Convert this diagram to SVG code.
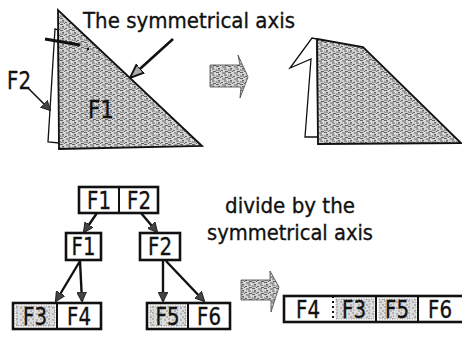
<svg xmlns="http://www.w3.org/2000/svg" width="462" height="340" viewBox="0 0 462 340">
<style>
text{font-family:"DejaVu Sans","Liberation Sans",sans-serif;fill:#111;stroke:#111;stroke-width:0.35}
.lbl{font-size:24px;text-anchor:middle}
.cap{font-size:21px}
.box{fill:#fff;stroke:#111;stroke-width:2.6}
.div{stroke:#111;stroke-width:2}
.edge{stroke:#111;stroke-width:2.4;fill:none}
.shade{fill:url(#tex);stroke:#111;stroke-width:1.8;stroke-linejoin:miter}
.light{fill:url(#tex2);stroke:#777;stroke-width:0.8;stroke-dasharray:1 1.5}
.thin{fill:#fff;stroke:#111;stroke-width:1.3}
</style>
<defs>
<pattern id="tex" width="12" height="6" patternUnits="userSpaceOnUse">
<rect width="12" height="6" fill="#cfcfcf"/>
<path d="M0,0.5h3M6,1h4M2,2.5h2M8,3h3M0,4h4M5,4.5h2M9,5.5h3M4,5.5h1" stroke="#333" stroke-width="0.7"/>
<path d="M4,0.5h1M10,2h2M1,3h1M7,5h1" stroke="#fafafa" stroke-width="0.7"/>
</pattern>
<pattern id="tex2" width="8" height="6" patternUnits="userSpaceOnUse">
<rect width="8" height="6" fill="#dcdcdc"/>
<path d="M0,1h2M4,2h2M1,4h1M6,5h2" stroke="#666" stroke-width="0.7"/>
</pattern>
<marker id="ah" viewBox="0 0 10 10" refX="9" refY="5" markerWidth="10" markerHeight="10" markerUnits="userSpaceOnUse" orient="auto">
<path d="M0,0L10,5L0,10z" fill="#444" stroke="#111" stroke-width="0.8"/>
</marker>
<marker id="ahOpen" viewBox="0 0 10 10" refX="9" refY="5" markerWidth="14" markerHeight="14" markerUnits="userSpaceOnUse" orient="auto">
<path d="M0,1L10,5L0,9z" fill="#aaa" stroke="#111" stroke-width="1.4"/>
</marker>
</defs>

<g id="label-axis">
<text class="cap" x="83" y="28" textLength="212" lengthAdjust="spacingAndGlyphs">The symmetrical axis</text>
</g>

<g id="node-F2-piece">
<polygon class="thin" points="55,29 48,142 59,143 58,30"/>
<text class="lbl" x="19" y="89" textLength="24" lengthAdjust="spacingAndGlyphs">F2</text>
</g>

<g id="node-F1-piece">
<polygon class="shade" points="58,10 59,149 202,146"/>
<text class="lbl" x="101" y="118" textLength="26" lengthAdjust="spacingAndGlyphs">F1</text>
</g>

<g id="axis-mark">
<line x1="45" y1="39" x2="80" y2="45" stroke="#111" stroke-width="3"/>
<circle cx="88" cy="49" r="1.2" fill="#111"/>
</g>

<g id="block-arrow-1">
<path d="M210,65L240,65L238,55L248,77L240,98L241,87L210,87Z" fill="url(#tex)" stroke="#444" stroke-width="0.8"/>
</g>

<g id="folded-shape">
<polygon class="thin" points="317,39 312,38 290,68 311,59 305,137 318,137"/>
<polygon class="shade" points="317,39 363,47 461,143 318,144"/>
</g>

<g id="tree-root">
<rect class="box" x="79" y="187" width="79" height="26"/>
<line class="div" x1="119" y1="187" x2="119" y2="213"/>
<text class="lbl" x="99" y="209" textLength="24" lengthAdjust="spacingAndGlyphs">F1</text>
<text class="lbl" x="139" y="209" textLength="24" lengthAdjust="spacingAndGlyphs">F2</text>
</g>

<g id="tree-F1">
<rect class="box" x="66" y="233" width="35" height="27"/>
<text class="lbl" x="83.5" y="255" textLength="24" lengthAdjust="spacingAndGlyphs">F1</text>
</g>

<g id="tree-F2">
<rect class="box" x="140" y="233" width="40" height="27"/>
<text class="lbl" x="160" y="255" textLength="24" lengthAdjust="spacingAndGlyphs">F2</text>
</g>

<g id="tree-F3F4">
<rect class="box" x="13" y="303" width="88" height="26"/>
<rect class="light" x="16" y="306" width="39" height="20"/>
<line class="div" x1="57" y1="303" x2="57" y2="329"/>
<text class="lbl" x="35" y="325" textLength="24" lengthAdjust="spacingAndGlyphs">F3</text>
<text class="lbl" x="79" y="325" textLength="24" lengthAdjust="spacingAndGlyphs">F4</text>
</g>

<g id="tree-F5F6">
<rect class="box" x="147" y="303" width="83" height="26"/>
<rect class="light" x="150" y="306" width="36" height="20"/>
<line class="div" x1="188" y1="303" x2="188" y2="329"/>
<text class="lbl" x="167.5" y="325" textLength="24" lengthAdjust="spacingAndGlyphs">F5</text>
<text class="lbl" x="209" y="325" textLength="24" lengthAdjust="spacingAndGlyphs">F6</text>
</g>

<g id="caption">
<text class="cap" x="225" y="213" textLength="130" lengthAdjust="spacingAndGlyphs">divide by the</text>
<text class="cap" x="207" y="240" textLength="166" lengthAdjust="spacingAndGlyphs">symmetrical axis</text>
</g>

<g id="block-arrow-2">
<path d="M241,280L270,280L270,271L279,287L271,312L271,300L241,300Z" fill="url(#tex)" stroke="#444" stroke-width="0.8"/>
</g>

<g id="result">
<rect class="box" x="284" y="296" width="186" height="26"/>
<rect class="light" x="336" y="299" width="38" height="20"/>
<rect class="light" x="379" y="299" width="37" height="20"/>
<line class="div" x1="333" y1="296" x2="333" y2="322" stroke-dasharray="2 3"/>
<line class="div" x1="376" y1="296" x2="376" y2="322"/>
<line class="div" x1="418" y1="296" x2="418" y2="322"/>
<text class="lbl" x="308" y="318" textLength="24" lengthAdjust="spacingAndGlyphs">F4</text>
<text class="lbl" x="354" y="318" textLength="24" lengthAdjust="spacingAndGlyphs">F3</text>
<text class="lbl" x="397" y="318" textLength="24" lengthAdjust="spacingAndGlyphs">F5</text>
<text class="lbl" x="440" y="318" textLength="24" lengthAdjust="spacingAndGlyphs">F6</text>
</g>

<g id="connectors">
<line x1="28" y1="88" x2="50" y2="110" stroke="#111" stroke-width="1.6" marker-end="url(#ah)"/>
<line x1="173" y1="39" x2="131" y2="77" stroke="#111" stroke-width="2.6" marker-end="url(#ahOpen)"/>
<line class="edge" x1="97" y1="213" x2="84" y2="232" marker-end="url(#ah)"/>
<line class="edge" x1="141" y1="213" x2="157" y2="232" marker-end="url(#ah)"/>
<line class="edge" x1="80" y1="261" x2="56" y2="301" marker-end="url(#ah)"/>
<line class="edge" x1="80" y1="261" x2="82" y2="301" marker-end="url(#ah)"/>
<line class="edge" x1="163" y1="261" x2="163" y2="301" marker-end="url(#ah)"/>
<line class="edge" x1="166" y1="261" x2="204" y2="301" marker-end="url(#ah)"/>
</g>
</svg>
